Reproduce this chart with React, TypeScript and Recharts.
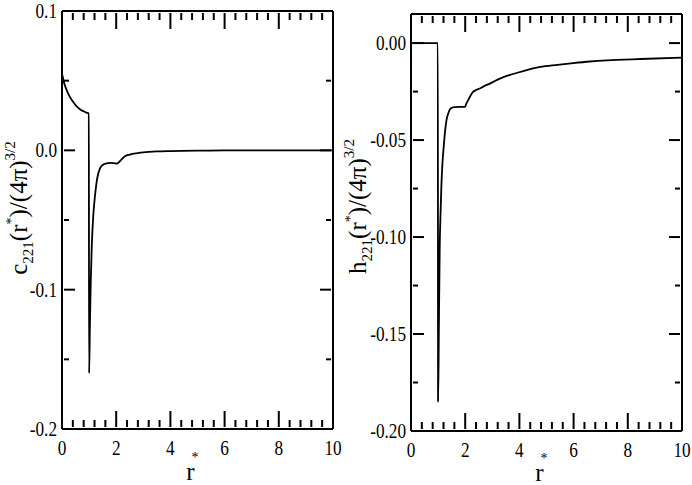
import React from 'react';
import { LineChart, Line, XAxis, YAxis, ReferenceLine } from 'recharts';

// c221(r*) — left panel
const leftR = [0, 0.1, 0.2, 0.3, 0.4, 0.5, 0.6, 0.7, 0.8, 0.9, 0.99, 1.0, 1.03, 1.06, 1.1, 1.15, 1.2, 1.25, 1.3, 1.4, 1.5, 1.6, 1.8, 2.0, 2.1, 2.2, 2.3, 2.5, 2.8, 3.0, 3.5, 4.0, 5.0, 6.0, 8.0, 10.0];
const leftC = [0.055, 0.047, 0.042, 0.038, 0.035, 0.0325, 0.0305, 0.029, 0.028, 0.027, 0.0265, -0.16, -0.125, -0.095, -0.068, -0.048, -0.036, -0.027, -0.02, -0.013, -0.0105, -0.0095, -0.009, -0.0095, -0.0085, -0.0065, -0.0045, -0.003, -0.002, -0.0015, -0.0008, -0.0005, -0.0002, -0.0001, 0, 0];

// h221(r*) — right panel
const rightR = [0, 0.5, 0.99, 1.0, 1.03, 1.06, 1.09, 1.12, 1.16, 1.21, 1.26, 1.31, 1.38, 1.46, 1.6, 1.8, 1.99, 2.05, 2.11, 2.2, 2.29, 2.4, 2.54, 2.7, 2.91, 3.28, 3.7, 4.14, 4.76, 5.4, 5.99, 6.6, 7.23, 8.46, 10];
const rightH = [0, 0, 0, -0.185, -0.145, -0.105, -0.088, -0.074, -0.062, -0.053, -0.045, -0.0397, -0.036, -0.0337, -0.033, -0.0329, -0.0329, -0.031, -0.0294, -0.027, -0.0252, -0.0242, -0.0234, -0.0222, -0.0209, -0.0183, -0.0162, -0.0144, -0.0123, -0.0112, -0.0103, -0.0095, -0.0089, -0.0082, -0.0075];

const xTicks = Array.from({ length: 26 }, (_, i) => Math.round(i * 4) / 10);
const leftYTicks = [-0.2, -0.15, -0.1, -0.05, 0, 0.05, 0.1];
const rightYTicks = [-0.2, -0.175, -0.15, -0.125, -0.1, -0.075, -0.05, -0.025, 0];

const FONT = "'Liberation Serif', 'Times New Roman', serif";
const isMajor = (v: number, step: number) => Math.abs(v / step - Math.round(v / step)) < 1e-6;

function XTick(props: any) {
  const x = Number(props.x);
  const y = Number(props.y);
  const plotH = Number(props.plotH);
  const v = Number(props.payload?.value);
  const major = isMajor(v, 2);
  const len = major ? 16 : 7;
  const axisY = y - 2; // tick y sits tickMargin below the axis
  const b0 = axisY - 2;
  const t0 = axisY - plotH + 2;
  return (
    <g>
      <line x1={x} y1={b0} x2={x} y2={b0 - len} stroke="black" strokeWidth={2} />
      <line x1={x} y1={t0} x2={x} y2={t0 + len} stroke="black" strokeWidth={2} />
      {major ? (
        <text transform={`translate(${x},${axisY + 26}) scale(0.82,1)`} textAnchor="middle" fontSize={21} fontFamily={FONT} fill="#000">
          {String(v)}
        </text>
      ) : null}
    </g>
  );
}

function YTick(props: any) {
  const x = Number(props.x);
  const y = Number(props.y);
  const plotW = Number(props.plotW);
  const v = Number(props.payload?.value);
  const major = isMajor(v, props.step);
  const len = major ? 11 : 5;
  const axisX = x + 2; // tick x sits tickMargin left of the axis
  const l0 = axisX + 2;
  const r0 = axisX + plotW - 2;
  return (
    <g>
      <line x1={l0} y1={y} x2={l0 + len} y2={y} stroke="black" strokeWidth={2} />
      <line x1={r0} y1={y} x2={r0 - len} y2={y} stroke="black" strokeWidth={2} />
      {major ? (
        <text transform={`translate(${axisX - 5},${y + 7}) scale(0.82,1)`} textAnchor="end" fontSize={21} fontFamily={FONT} fill="#000">
          {v.toFixed(props.decimals)}
        </text>
      ) : null}
    </g>
  );
}

function YTitle(props: any) {
  const { viewBox, letter, dx, dyc } = props;
  const vb = viewBox || { x: 0, y: 0, width: 60, height: 420 };
  const tx = vb.x + dx;
  const ty = vb.y + vb.height / 2 + dyc;
  return (
    <text transform={`translate(${tx},${ty}) rotate(-90)`} textAnchor="middle" fontSize={25} fontFamily={FONT} fill="#000">
      <tspan>{letter}</tspan>
      <tspan fontSize={15} dy={6}>221</tspan>
      <tspan dy={-6}>(r</tspan>
      <tspan fontSize={14} dy={-11}>*</tspan>
      <tspan dy={11}>)/(4π)</tspan>
      <tspan fontSize={15} dy={-12}>3/2</tspan>
    </text>
  );
}

function XTitle(props: any) {
  const { viewBox, dyc } = props;
  const vb = viewBox || { x: 0, y: 0, width: 270, height: 56 };
  const cx = vb.x + vb.width / 2 - 7;
  return (
    <g>
      <text x={cx} y={vb.y + 51 + dyc} textAnchor="middle" fontSize={25} fontFamily={FONT} fill="#000">r</text>
      <text x={cx + 4.5} y={vb.y + 33 + dyc} textAnchor="middle" fontSize={14} fontFamily={FONT} fill="#000">*</text>
    </g>
  );
}

interface PanelProps {
  xs: number[];
  ys: number[];
  width: number;
  yWidth: number;
  top: number;
  right: number;
  xHeight: number;
  yDomain: [number, number];
  yTicks: number[];
  yStep: number;
  decimals: number;
  letter: string;
  titleDx: number;
  titleDy: number;
  xTitleDy: number;
}

function Panel(p: PanelProps) {
  const height = 485;
  const plotW = p.width - p.yWidth - p.right;
  const plotH = height - p.top - p.xHeight;
  const data = p.xs.map((r, i) => ({ r, v: p.ys[i] }));
  return (
    <LineChart width={p.width} height={height} data={data} margin={{ top: p.top, right: p.right, bottom: 0, left: 0 }}>
      <XAxis
        dataKey="r"
        type="number"
        domain={[0, 10]}
        ticks={xTicks}
        interval={0}
        tickSize={0}
        tickMargin={2}
        height={p.xHeight}
        axisLine={{ stroke: '#000', strokeWidth: 2 }}
        tickLine={false}
        tick={<XTick plotH={plotH} />}
        label={<XTitle dyc={p.xTitleDy} />}
      />
      <YAxis
        type="number"
        domain={p.yDomain}
        ticks={p.yTicks}
        interval={0}
        tickSize={0}
        tickMargin={2}
        width={p.yWidth}
        axisLine={{ stroke: '#000', strokeWidth: 2 }}
        tickLine={false}
        tick={<YTick plotW={plotW} step={p.yStep} decimals={p.decimals} />}
        label={<YTitle letter={p.letter} dx={p.titleDx} dyc={p.titleDy} />}
      />
      <ReferenceLine y={p.yDomain[1]} stroke="#000" strokeWidth={2} />
      <ReferenceLine x={10} stroke="#000" strokeWidth={2} />
      <Line type="monotone" dataKey="v" stroke="#000" strokeWidth={1.8} dot={false} isAnimationActive={false} />
    </LineChart>
  );
}

export default function App() {
  return (
    <div style={{ position: 'absolute', left: 0, top: 0, width: 692, height: 485, background: '#fff' }}>
      <div style={{ position: 'absolute', left: 0, top: 0 }}>
        <Panel
          xs={leftR}
          ys={leftC}
          width={352}
          yWidth={62}
          top={11}
          right={19}
          xHeight={56}
          yDomain={[-0.2, 0.1]}
          yTicks={leftYTicks}
          yStep={0.1}
          decimals={1}
          letter="c"
          titleDx={27}
          titleDy={-12}
          xTitleDy={0}
        />
      </div>
      <div style={{ position: 'absolute', left: 340, top: 0 }}>
        <Panel
          xs={rightR}
          ys={rightH}
          width={352}
          yWidth={71}
          top={14}
          right={10}
          xHeight={54}
          yDomain={[-0.2, 0.015]}
          yTicks={rightYTicks}
          yStep={0.05}
          decimals={2}
          letter="h"
          titleDx={26}
          titleDy={-16}
          xTitleDy={-1}
        />
      </div>
    </div>
  );
}
